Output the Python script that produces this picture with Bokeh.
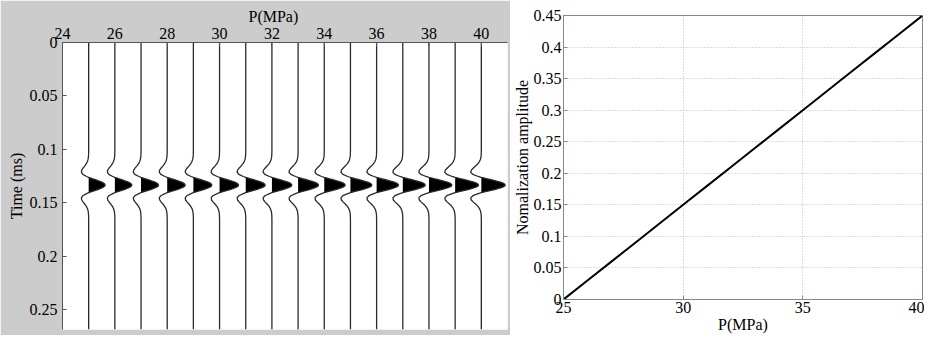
from bokeh.plotting import figure
from bokeh.layouts import row, column
from bokeh.models import Range1d, FixedTicker, Title
from bokeh.embed import file_html
from bokeh.resources import INLINE

# ---------------- data ----------------
pressures = [25, 26, 27, 28, 29, 30, 31, 32, 33, 34, 35, 36, 37, 38, 39, 40]
# peak wiggle deflection of each trace (in MPa units of the horizontal axis)
trace_amp = [0.630, 0.649, 0.668, 0.687, 0.706, 0.725, 0.743, 0.762,
             0.781, 0.800, 0.819, 0.838, 0.857, 0.876, 0.894, 0.913]
wavelet_center = 0.1335
wavelet_offset = [0.0, 0.001, 0.002, 0.003, 0.004, 0.005, 0.006, 0.0072, 0.008,
                  0.010, 0.012, 0.014, 0.016, 0.018, 0.020, 0.022, 0.024, 0.026,
                  0.028, 0.030, 0.032]
wavelet_value = [1.0, 0.971, 0.888, 0.758, 0.593, 0.407, 0.216, 0.0, -0.127,
                 -0.354, -0.443, -0.420, -0.334, -0.231, -0.142, -0.078, -0.039,
                 -0.018, -0.007, -0.003, 0.0]
time_max = 0.2688

left_xticks = [24, 26, 28, 30, 32, 34, 36, 38, 40]
left_yticks = [0, 0.05, 0.1, 0.15, 0.2, 0.25]
left_ylabels = ["0", "0.05", "0.1", "0.15", "0.2", "0.25"]

norm_amp = [0.0, 0.03, 0.06, 0.09, 0.12, 0.15, 0.18, 0.21,
            0.24, 0.27, 0.30, 0.33, 0.36, 0.39, 0.42, 0.45]
right_xticks = [25, 30, 35, 40]
right_yticks = [0, 0.05, 0.1, 0.15, 0.2, 0.25, 0.3, 0.35, 0.4, 0.45]
right_ylabels = ["0", "0.05", "0.1", "0.15", "0.2", "0.25", "0.3", "0.35", "0.4", "0.45"]

FONT = "Liberation Serif"
FS = "16px"

# full wavelet (symmetric) times and values
w_off = [-o for o in reversed(wavelet_offset[1:])] + wavelet_offset
w_val = list(reversed(wavelet_value[1:])) + wavelet_value


def style_axis(ax, color):
    ax.major_label_text_font = FONT
    ax.major_label_text_font_size = FS
    ax.major_label_text_color = "black"
    ax.axis_label_text_font = FONT
    ax.axis_label_text_font_size = FS
    ax.axis_label_text_font_style = "normal"
    ax.axis_label_text_color = "black"
    ax.axis_line_color = color
    ax.major_tick_line_color = color
    ax.major_tick_in = 4
    ax.major_tick_out = 0
    ax.minor_tick_line_color = None


# ---------------- left: wiggle section ----------------
p1 = figure(width=510, height=335, x_range=Range1d(24, 41), y_range=Range1d(time_max, 0),
            x_axis_location="above", output_backend="svg", toolbar_location=None,
            min_border_left=62, min_border_right=3, min_border_top=42, min_border_bottom=6)
p1.border_fill_color = "#cccccc"
p1.background_fill_color = "white"
p1.outline_line_color = None
p1.xgrid.visible = False
p1.ygrid.visible = False

p1.title = Title(text="P(MPa)", align="left", offset=186, text_font=FONT,
                 text_font_size=FS, text_font_style="normal", text_color="black",
                 standoff=0)

for ax in p1.xaxis + p1.yaxis:
    style_axis(ax, "#555555")

p1.xaxis.ticker = FixedTicker(ticks=left_xticks)
p1.xaxis.major_label_standoff = 4
p1.yaxis.ticker = FixedTicker(ticks=left_yticks)
p1.yaxis.major_label_overrides = {t: l for t, l in zip(left_yticks, left_ylabels)}
p1.yaxis.major_label_standoff = 5
p1.yaxis.axis_label = "Time (ms)"
p1.yaxis.axis_label_standoff = 2

for P, A in zip(pressures, trace_amp):
    ts = [0.0] + [wavelet_center + o for o in w_off] + [time_max]
    xs = [P] + [P + A * v for v in w_val] + [P]
    pos_t = [wavelet_center + o for o, v in zip(w_off, w_val) if v >= 0 and abs(o) <= 0.0072]
    pos_x = [P + A * v for o, v in zip(w_off, w_val) if v >= 0 and abs(o) <= 0.0072]
    p1.harea(x1=[P] * len(pos_t), x2=pos_x, y=pos_t, fill_color="black")
    p1.line(xs, ts, line_color="#2a2a2a", line_width=1.3)

# ---------------- right: normalised amplitude ----------------
p2 = figure(width=414, height=335, x_range=Range1d(25, 40), y_range=Range1d(0, 0.45),
            output_backend="svg", toolbar_location=None,
            min_border_left=52, min_border_right=2, min_border_top=15, min_border_bottom=34)
p2.background_fill_color = "white"
p2.border_fill_color = "white"
p2.outline_line_color = "#888888"

for ax in p2.xaxis + p2.yaxis:
    style_axis(ax, "#888888")

p2.xaxis.ticker = FixedTicker(ticks=right_xticks)
p2.xaxis.axis_label = "P(MPa)"
p2.xaxis.major_label_standoff = 2
p2.xaxis.axis_label_standoff = 0
p2.yaxis.ticker = FixedTicker(ticks=right_yticks)
p2.yaxis.major_label_overrides = {t: l for t, l in zip(right_yticks, right_ylabels)}
p2.yaxis.axis_label = "Nomalization amplitude"
p2.yaxis.major_label_standoff = 2
p2.yaxis.axis_label_standoff = 0

p2.xgrid.ticker = FixedTicker(ticks=right_xticks)
p2.ygrid.ticker = FixedTicker(ticks=right_yticks)
for g in (p2.xgrid, p2.ygrid):
    g.grid_line_color = "#bbbbbb"
    g.grid_line_dash = "1 2"
    g.grid_line_width = 1

p2.line(pressures, norm_amp, line_color="black", line_width=2)

layout = row(column(p1), column(p2), spacing=0)
open("out.html", "w").write(file_html(layout, INLINE))
